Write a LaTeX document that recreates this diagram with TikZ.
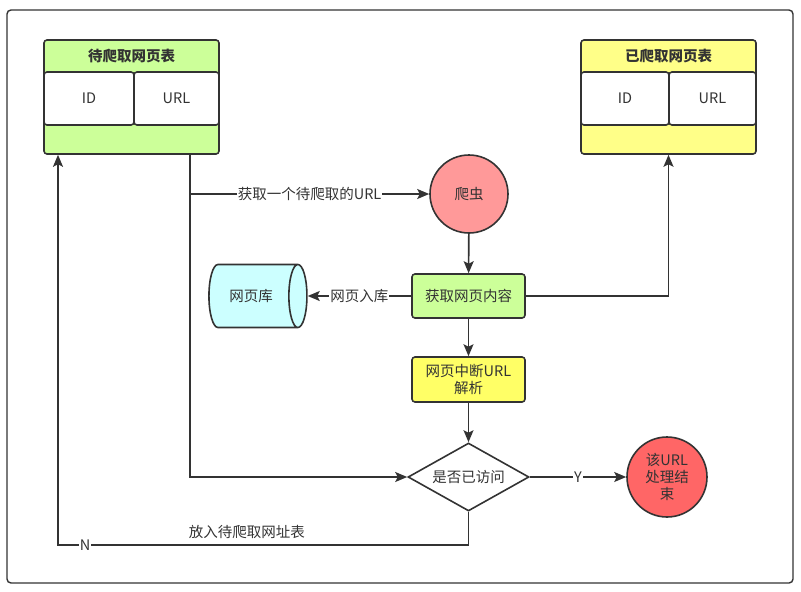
\documentclass[tikz,border=0pt]{standalone}
\usepackage{fontspec}
\newfontfamily\cjk{Noto Sans CJK SC}
\usetikzlibrary{arrows.meta, positioning, shapes.geometric}
\definecolor{ink}{HTML}{333333}
\definecolor{leaf}{HTML}{CCFF99}
\definecolor{lemon}{HTML}{FFFF88}
\definecolor{butter}{HTML}{FFFF66}
\definecolor{rose}{HTML}{FF9999}
\definecolor{coral}{HTML}{FF6666}
\definecolor{ice}{HTML}{CCFFFF}
\tikzset{box/.style={rectangle,draw=ink,rounded corners=3pt,align=center,line width=1.6pt,inner sep=3pt},
  tablebox/.style={box,minimum width=175pt,minimum height=114pt},
  cell/.style={box,fill=white,minimum height=53pt},
  stepbox/.style={box,minimum width=113pt,minimum height=44pt},
  round/.style={circle,draw=ink,line width=1.6pt,align=center,minimum size=78pt,inner sep=0pt},
  store/.style={cylinder,draw=ink,line width=1.6pt,fill=ice,shape aspect=0.9,minimum width=63pt,minimum height=98pt},
  check/.style={diamond,draw=ink,line width=1.6pt,fill=white,aspect=1.78,minimum width=121pt,minimum height=68pt,inner sep=0pt},
  line/.style={-{Stealth[length=12pt,width=10pt,inset=2.5pt]},draw=ink,line width=1.6pt},
  lbl/.style={fill=white,inner sep=1pt}}

\begin{document}
\begin{tikzpicture}[x=1pt,y=-1pt,font=\cjk\fontsize{14.5}{17}\selectfont,text=ink]
\useasboundingbox (0,0) rectangle (801,592);
\draw[ink,line width=1.4pt,rounded corners=4pt] (7,10) rectangle (793,583);
% tables
\node[tablebox,fill=leaf] (todo) at (131.5,97) {};
\node[font=\cjk\fontsize{14.5}{17}\selectfont\bfseries] at (131.5,56) {待爬取网页表};
\node[cell,minimum width=90pt] (todoid) at (89,98.5) {ID};
\node[cell,minimum width=85pt] (todourl) at (176.5,98.5) {URL};
\node[tablebox,fill=lemon] (done) at (668.5,97) {};
\node[font=\cjk\fontsize{14.5}{17}\selectfont\bfseries] at (668.5,56) {已爬取网页表};
\node[cell,minimum width=88pt] (doneid) at (625,98.5) {ID};
\node[cell,minimum width=87pt] (doneurl) at (712.5,98.5) {URL};
% flow
\node[round,fill=rose] (spider) at (469,194) {爬虫};
\node[stepbox,fill=leaf] (fetch) at (468.5,296) {获取网页内容};
\node[store] (pages) at (251,296) {网页库};
\node[stepbox,fill=butter,minimum height=45pt] (parse) at (468.5,379.5) {网页中断URL\\解析};
\node[check] (visited) at (468.5,477) {是否已访问};
\node[round,fill=coral,minimum size=80pt] (finish) at (667,477) {该URL\\处理结\\束};
\coordinate (split) at (190,194);
\coordinate (back) at (58,545);
\draw[ink,line width=1.6pt] (todo.south -| split) -- (split);
\draw[line] (split) -- node[lbl]{获取一个待爬取的URL} (spider);
\draw[line] (split) |- (visited);
\draw[line] (spider) -- (fetch);
\draw[line] (fetch) -- node[lbl]{网页入库} (pages);
\draw[line] (fetch) -- (parse);
\draw[line] (parse) -- (visited);
\draw[line] (fetch.east) -| (done.south);
\draw[line] (visited) -- node[lbl]{Y} (finish);
\draw[line] (visited.south) |- node[pos=0.967,lbl]{N} node[pos=0.77,above=2pt]{放入待爬取网址表} (back) -- (todo.south -| back);
\end{tikzpicture}
\end{document}
